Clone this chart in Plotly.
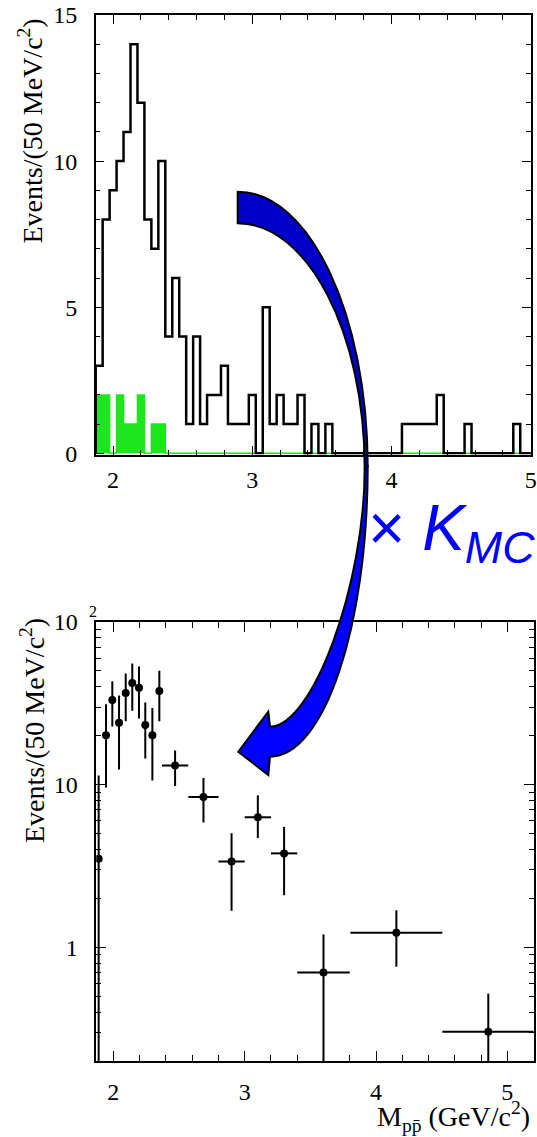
import numpy as np
import plotly.graph_objects as go

# ---------------- data: top histogram (50 MeV bins starting at 1.875 GeV) ----------------
bin_start = 1.875
bin_width = 0.05
counts_black = [3, 8, 9, 10, 11, 14, 12, 8, 7, 10,
                4, 6, 4, 1, 4, 1, 2, 2, 3, 1,
                1, 1, 2, 0, 5, 1, 2, 1, 1, 2,
                0, 1, 0, 1, 0, 0, 0, 0, 0, 0,
                0, 0, 0, 0, 1, 1, 1, 1, 1, 2,
                0, 0, 0, 1, 0, 0, 0, 0, 0, 0,
                1, 0, 0]
counts_green = [2, 2, 0, 2, 1, 1, 2, 0, 1, 1] + [0] * 53

# ---------------- data: bottom efficiency-corrected spectrum ----------------
m_center = [1.888, 1.944, 1.992, 2.043, 2.094, 2.144, 2.195, 2.243, 2.297, 2.35,
            2.47, 2.686, 2.9, 3.1, 3.3, 3.6, 4.155, 4.855]
m_halfwidth = [0.012, 0.025, 0.025, 0.025, 0.025, 0.025, 0.025, 0.025, 0.025, 0.025,
               0.1, 0.115, 0.1, 0.1, 0.1, 0.2, 0.35, 0.35]
events = [3.5, 20.1, 33.1, 24.0, 36.6, 42.2, 39.4, 23.3, 20.1, 37.6,
          13.1, 8.4, 3.37, 6.3, 3.78, 0.70, 1.23, 0.303]
events_hi = [11.4, 31.2, 43.3, 35.3, 48.3, 55.6, 53.3, 32.0, 29.6, 50.2,
             16.2, 11.0, 5.03, 8.6, 5.5, 1.20, 1.69, 0.519]
events_lo = [0.1, 9.6, 22.8, 12.4, 24.5, 28.5, 25.5, 14.5, 10.6, 24.5,
             9.8, 5.85, 1.68, 4.7, 2.09, 0.1, 0.76, 0.1]

top_xticks = [2, 3, 4, 5]
top_yticks = [0, 5, 10, 15]
bot_yticks = [1, 10, 100]
bot_yticktext = ["1", "10", "10"]

W, H = 537, 1137
SERIF = "Liberation Serif, Times New Roman, serif"

def step_xy(counts):
    edges = bin_start + bin_width * np.arange(len(counts) + 1)
    xs = [edges[0]] + list(edges)
    ys = [0] + list(counts) + [counts[-1]]
    return xs, ys

fig = go.Figure()

gx, gy = step_xy(counts_green)
fig.add_trace(go.Scatter(x=gx, y=gy, mode="lines", line=dict(shape="hv", color="rgb(30,230,30)", width=1.5),
                         fill="tozeroy", fillcolor="rgb(30,230,30)", xaxis="x", yaxis="y", showlegend=False))
bx, by = step_xy(counts_black)
fig.add_trace(go.Scatter(x=bx, y=by, mode="lines", line=dict(shape="hv", color="black", width=2.5),
                         xaxis="x", yaxis="y", showlegend=False))

ev = np.array(events)
fig.add_trace(go.Scatter(
    x=m_center, y=events, mode="markers",
    marker=dict(color="black", size=8),
    error_y=dict(type="data", symmetric=False, array=list(np.array(events_hi) - ev),
                 arrayminus=list(ev - np.array(events_lo)), color="black", thickness=2, width=0),
    error_x=dict(type="data", array=m_halfwidth, color="black", thickness=2, width=0),
    xaxis="x2", yaxis="y2", showlegend=False))

def px(x): return x / W
def py(y): return 1 - y / H

axis_common = dict(showline=True, linecolor="black", linewidth=1.5, mirror="ticks", ticks="inside",
                   tickcolor="black", showgrid=False, zeroline=False,
                   tickfont=dict(family=SERIF, size=24, color="black"))

fig.update_layout(
    width=W, height=H, margin=dict(l=0, r=0, t=0, b=0, autoexpand=False),
    font=dict(family=SERIF, size=24, color="black"),
    paper_bgcolor="white", plot_bgcolor="white", showlegend=False,
    xaxis=dict(domain=[px(95.7), px(530.7)], anchor="y", range=[bin_start, 5.0],
               tickvals=top_xticks, ticklen=9, tickwidth=1.2, ticklabelstandoff=3,
               minor=dict(dtick=0.2, tick0=0, ticks="inside", ticklen=5, tickcolor="black", tickwidth=1),
               **axis_common),
    yaxis=dict(domain=[py(454.5), py(15)], anchor="x", range=[-0.04, 15],
               tickvals=top_yticks, ticklen=9, tickwidth=1.2, ticklabelstandoff=12,
               minor=dict(dtick=1, tick0=0, ticks="inside", ticklen=5, tickcolor="black", tickwidth=1),
               **axis_common),
    xaxis2=dict(domain=[px(96.3), px(533.6)], anchor="y2", range=[1.87, 5.2],
                tickvals=top_xticks, ticklen=10, tickwidth=1.2, ticklabelstandoff=8,
                minor=dict(dtick=0.2, tick0=0, ticks="inside", ticklen=6, tickcolor="black", tickwidth=1),
                **axis_common),
    yaxis2=dict(domain=[py(1061), py(622)], anchor="x2", type="log", range=[np.log10(0.2), 2],
                tickvals=bot_yticks, ticktext=bot_yticktext, ticklen=10, tickwidth=1.2, ticklabelstandoff=12,
                minor=dict(tickvals=[0.2, 0.3, 0.4, 0.5, 0.6, 0.7, 0.8, 0.9,
                                     2, 3, 4, 5, 6, 7, 8, 9, 20, 30, 40, 50, 60, 70, 80, 90],
                           ticks="inside", ticklen=5, tickcolor="black", tickwidth=1),
                **axis_common),
)

# ---------------- curved arrow (decoration) ----------------
k = 0.5523
def P(x, y):
    return f"{px(x):.5f},{py(y):.5f}"

top_path = ("M " + P(237.7, 191.7) +
            " C " + P(237.7 + k * 130, 191.7) + " " + P(367.7, 466.7 - k * 275) + " " + P(367.7, 466.7) +
            " L " + P(364.7, 468.3) +
            " C " + P(364.7, 468.3 - k * 245) + " " + P(237.7 + k * 127, 223.3) + " " + P(237.7, 223.3) +
            " Z")
bot_path = ("M " + P(367.7, 466.7) +
            " C " + P(367.7, 466.7 + k * 290) + " " + P(270 + k * 97.7, 756.7) + " " + P(270, 756.7) +
            " L " + P(268.3, 775) + " L " + P(238.3, 751.7) + " L " + P(268.3, 711.7) + " L " + P(270, 726.7) +
            " C " + P(312.6, 726.7) + " " + P(364.7, 584.6) + " " + P(364.7, 468.3) +
            " Z")
fig.add_shape(type="path", path=top_path, xref="paper", yref="paper",
              fillcolor="rgb(0,0,200)", line=dict(color="black", width=2), layer="above")
fig.add_shape(type="path", path=bot_path, xref="paper", yref="paper",
              fillcolor="rgb(0,0,255)", line=dict(color="black", width=2), layer="above")

# ---------------- text ----------------
ytitle = "Events/(50 MeV/c<sup>2</sup>)"
fig.add_annotation(text=ytitle, x=px(31.5), y=py(131), xref="paper", yref="paper", textangle=-90,
                   xanchor="center", yanchor="middle",
                   showarrow=False, font=dict(family=SERIF, size=28, color="black"))
fig.add_annotation(text=ytitle, x=px(32), y=py(731), xref="paper", yref="paper", textangle=-90,
                   xanchor="center", yanchor="middle",
                   showarrow=False, font=dict(family=SERIF, size=28, color="black"))
fig.add_annotation(text="M<sub>pp\u0304</sub> (GeV/c<sup>2</sup>)", x=px(532), y=py(1116),
                   xref="paper", yref="paper", xanchor="right", yanchor="middle",
                   showarrow=False, font=dict(family=SERIF, size=28, color="black"))
fig.add_annotation(text="2", x=px(93), y=py(611), xref="paper", yref="paper",
                   xanchor="center", yanchor="middle",
                   showarrow=False, font=dict(family=SERIF, size=16, color="black"))
fig.add_annotation(text="<i>\u00d7 K<sub>MC</sub></i>", x=1.0, y=py(532), xref="paper", yref="paper",
                   xanchor="right", yanchor="middle", showarrow=False,
                   font=dict(family="Liberation Sans, Arial, sans-serif", size=64, color="rgb(0,0,255)"))

fig.write_html("out.html")
